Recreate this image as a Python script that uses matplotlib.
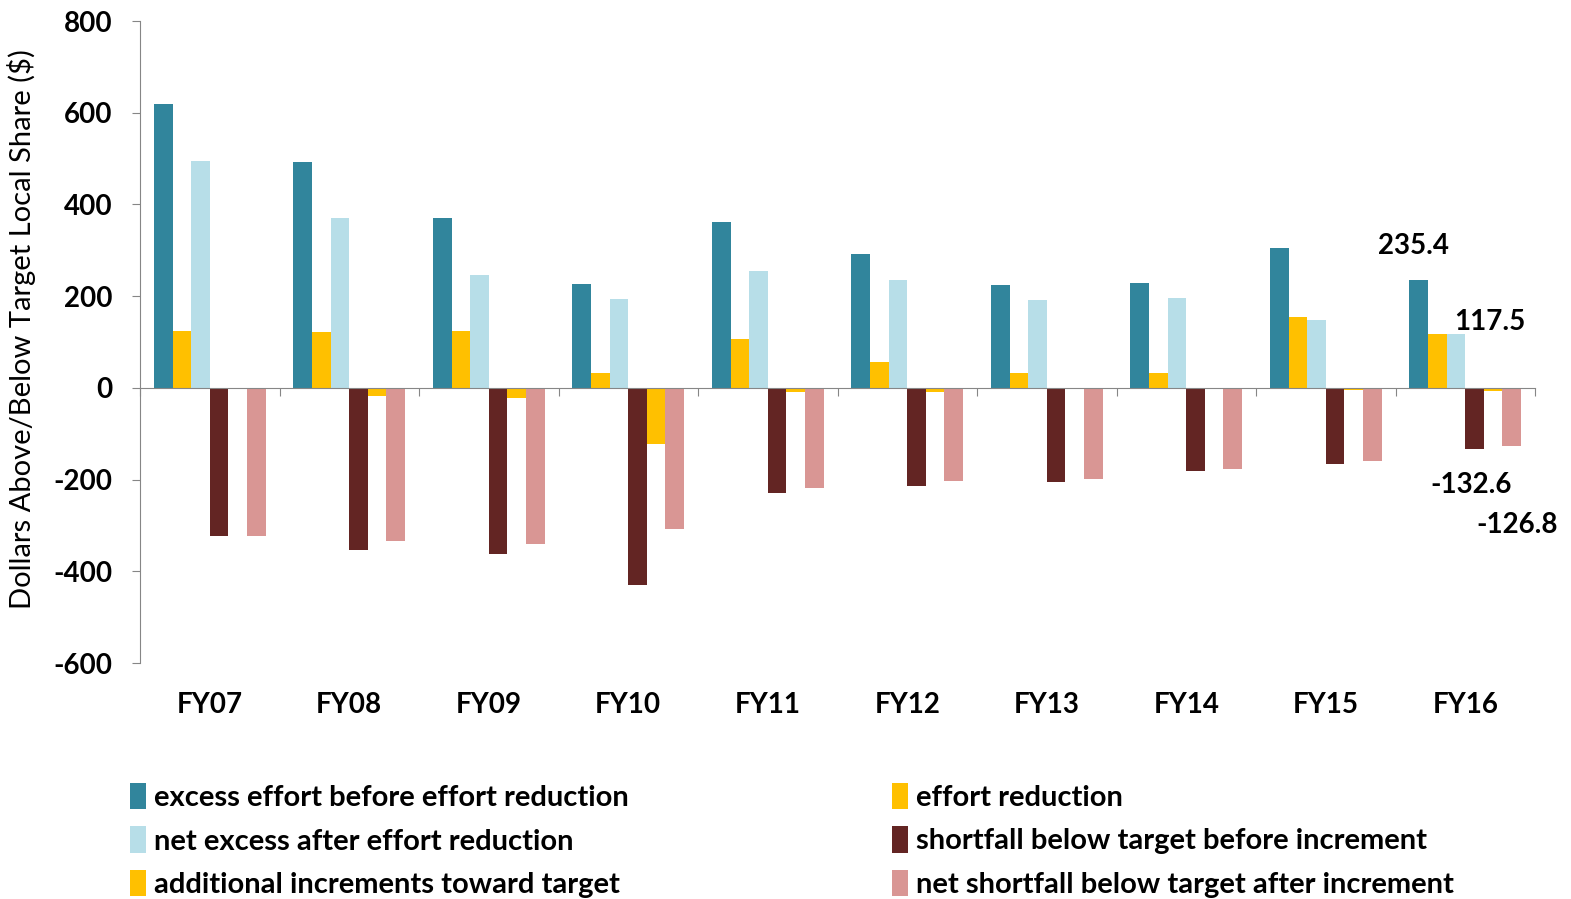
import matplotlib
matplotlib.use("Agg")
import matplotlib.pyplot as plt
import matplotlib.transforms as mtransforms
from matplotlib.patches import Patch
import numpy as np

categories = ["FY07", "FY08", "FY09", "FY10", "FY11", "FY12", "FY13", "FY14", "FY15", "FY16"]

excess_before = [619, 492, 370, 227, 362, 292, 225, 229, 304, 235.4]
effort_reduction = [124, 122, 123, 33, 107, 57, 33, 33, 155, 117.9]
net_excess = [495, 370, 247, 194, 255, 235, 192, 196, 149, 117.5]
shortfall_before = [-323, -353, -362, -430, -229, -214, -205, -181, -166, -132.6]
additional_increments = [0, -18, -22, -122, -8, -8, 0, 0, -5, -5.8]
net_shortfall = [-322, -335, -340, -308, -219, -204, -198, -178, -159, -126.8]

series_names = [
    "excess effort before effort reduction",
    "effort reduction",
    "net excess after effort reduction",
    "shortfall below target before increment",
    "additional increments toward target",
    "net shortfall below target after increment",
]
series_values = [excess_before, effort_reduction, net_excess,
                 shortfall_before, additional_increments, net_shortfall]
series_colors = ["#31859C", "#FFC000", "#B7DEE8", "#632523", "#FFC000", "#D99694"]

# FY16 values that carry a printed label: (series index, value)
labelled = [(0, 235.4), (2, 117.5), (3, -132.6), (5, -126.8)]

plt.rcParams["font.family"] = ["Lato", "DejaVu Sans"]
plt.rcParams["axes.unicode_minus"] = False

fig = plt.figure(figsize=(15.71, 8.99), dpi=100)
ax = fig.add_axes([140 / 1571, 1 - 663 / 899, (1535 - 140) / 1571, (663 - 21) / 899])

n_series = len(series_values)
x = np.arange(len(categories))
group_width = 0.80
bar_w = group_width / n_series
offsets = (np.arange(n_series) - (n_series - 1) / 2) * bar_w

for vals, color, off in zip(series_values, series_colors, offsets):
    ax.bar(x + off, vals, width=bar_w, color=color, linewidth=0, zorder=2)

ax.set_xlim(-0.5, len(categories) - 0.5)
ax.set_ylim(-600, 800)
ax.set_yticks(np.arange(-600, 801, 200))
ax.set_yticklabels([str(v) for v in range(-600, 801, 200)], fontsize=20, fontweight="bold")
ax.tick_params(axis="y", length=6, color="#868686", pad=14)

# category axis drawn at zero with boundary ticks
ax.spines["bottom"].set_position(("data", 0))
ax.spines["bottom"].set_color("#868686")
ax.spines["left"].set_color("#868686")
ax.spines["top"].set_visible(False)
ax.spines["right"].set_visible(False)
ax.set_xticks(np.arange(len(categories) + 1) - 0.5)
ax.set_xticklabels([])
ax.tick_params(axis="x", length=6, color="#868686", direction="out")

trans = mtransforms.blended_transform_factory(ax.transData, ax.transAxes)
for xi, cat in zip(x, categories):
    ax.text(xi, -0.066, cat, transform=trans, ha="center", va="center",
            fontsize=20, fontweight="bold")

ax.set_ylabel("Dollars Above/Below Target Local Share ($)", fontsize=21)
ax.yaxis.set_label_coords(-0.0745, 0.52)

# data labels for the last year: (dx, dy) from the bar end
last = len(categories) - 1
label_shift = {0: (-0.04, 74), 2: (0.245, 26.5), 3: (-0.026, -79), 5: (0.038, -172)}
for idx, val in labelled:
    dx, dy = label_shift[idx]
    bx = x[last] + offsets[idx]
    ax.annotate(f"{val:.1f}", xy=(bx, val), xytext=(bx + dx, val + dy),
                textcoords="data", ha="center", va="center",
                fontsize=20, fontweight="bold")

# legend in two columns, filled row by row
order = [0, 2, 4, 1, 3, 5]
handles = [Patch(facecolor=series_colors[i], edgecolor="none") for i in order]
labels = [series_names[i] for i in order]
fig.legend(handles, labels, loc="upper left", bbox_to_anchor=(118 / 1571, 1 - 771 / 899),
           ncol=2, frameon=False, prop={"size": 21, "weight": "bold"},
           handlelength=0.55, handleheight=1.0, handletextpad=0.3,
           columnspacing=9.0, labelspacing=0.54, borderaxespad=0)

fig.savefig("out.png", dpi=100, facecolor="white")
